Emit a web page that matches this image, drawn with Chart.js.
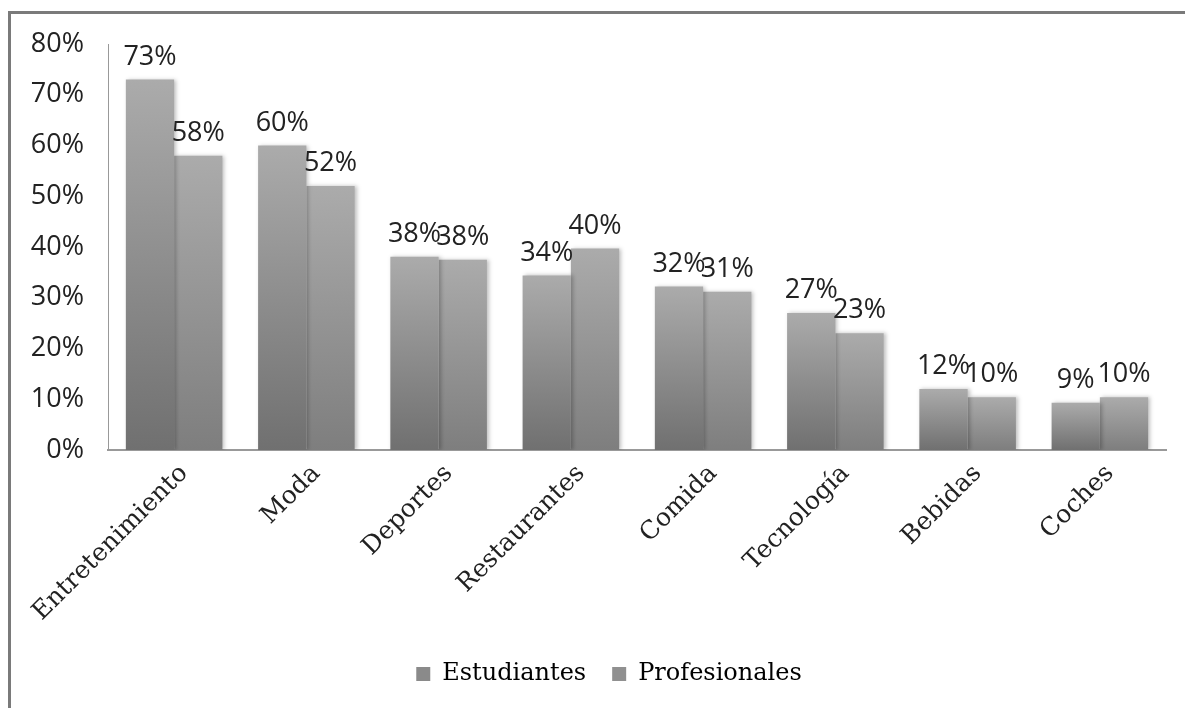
<!DOCTYPE html>
<html lang="es">
  <head>
    <meta charset="UTF-8" />
    <title>Estudiantes vs Profesionales</title>
    <script src="https://cdn.jsdelivr.net/npm/chart.js"></script>
    <style>
      html, body { margin: 0; padding: 0; background: #fff; }
      #wrap { position: relative; width: 1185px; height: 708px; }
      #frame {
        position: absolute; left: 8px; top: 11px; right: 0; bottom: 0;
        border-top: 3px solid #7a7a7a; border-left: 3px solid #7a7a7a;
      }
      canvas { position: absolute; left: 0; top: 0; }
    </style>
  </head>
  <body>
    <div id="wrap">
      <div id="frame"></div>
      <canvas id="chart" width="1185" height="708"></canvas>
    </div>

    <script>
      const categories = ["Entretenimiento", "Moda", "Deportes", "Restaurantes", "Comida", "Tecnología", "Bebidas", "Coches"];
      const estudiantes = [0.73, 0.60, 0.381, 0.344, 0.322, 0.27, 0.12, 0.093];
      const profesionales = [0.58, 0.52, 0.375, 0.397, 0.312, 0.23, 0.104, 0.104];
      const yTicks = [0, 0.1, 0.2, 0.3, 0.4, 0.5, 0.6, 0.7, 0.8];

      const sansFont = "'Open Sans', 'DejaVu Sans', sans-serif";
      const serifFont = "'DejaVu Serif', serif";

      // gradient per bar: light at top, darker at the base
      function barFill(top, bottom) {
        return (ctx) => {
          const chart = ctx.chart;
          const y = chart.scales && chart.scales.y;
          if (!y || ctx.parsed === undefined) return top;
          const yTop = y.getPixelForValue(ctx.parsed.y);
          const yBase = y.getPixelForValue(0);
          if (!isFinite(yTop) || !isFinite(yBase) || yTop === yBase) return top;
          const g = chart.ctx.createLinearGradient(0, yTop, 0, yBase);
          g.addColorStop(0, top);
          g.addColorStop(1, bottom);
          return g;
        };
      }

      const valueLabels = {
        id: "valueLabels",
        afterDatasetsDraw(chart) {
          const ctx = chart.ctx;
          ctx.save();
          ctx.font = "27px " + sansFont;
          ctx.fillStyle = "#222";
          ctx.textAlign = "center";
          ctx.textBaseline = "bottom";
          chart.data.datasets.forEach((ds, i) => {
            chart.getDatasetMeta(i).data.forEach((bar, j) => {
              ctx.fillText(Math.round(ds.data[j] * 100) + "%", bar.x, bar.y - 9);
            });
          });
          ctx.restore();
        },
      };

      const barShadow = {
        id: "barShadow",
        beforeDatasetsDraw(chart) {
          const ctx = chart.ctx;
          ctx.save();
          ctx.shadowColor = "rgba(0,0,0,0.25)";
          ctx.shadowBlur = 4;
          ctx.shadowOffsetX = 2;
        },
        afterDatasetsDraw(chart) {
          chart.ctx.restore();
        },
      };

      // the legend in the original sits a little right of centre
      const legendShift = {
        id: "legendShift",
        afterLayout(chart) {
          chart.legend.left += 26;
          chart.legend.right += 26;
        },
      };

      new Chart(document.getElementById("chart"), {
        type: "bar",
        data: {
          labels: categories,
          datasets: [
            {
              label: "Estudiantes",
              data: estudiantes,
              backgroundColor: barFill("#ababab", "#707070"),
              borderWidth: 0,
            },
            {
              label: "Profesionales",
              data: profesionales,
              backgroundColor: barFill("#ababab", "#7e7e7e"),
              borderWidth: 0,
            },
          ],
        },
        options: {
          responsive: false,
          animation: false,
          devicePixelRatio: 1,
          layout: { padding: { left: 0, right: 19, top: 44, bottom: 12 } },
          datasets: { bar: { categoryPercentage: 0.73, barPercentage: 1 } },
          scales: {
            x: {
              grid: { display: false },
              border: { display: true, color: "#999", width: 2 },
              ticks: {
                color: "#222",
                font: { family: serifFont, size: 25 },
                minRotation: 45,
                maxRotation: 45,
                padding: 1,
                labelOffset: 10,
              },
              afterFit(scale) { scale.height = 186; },
            },
            y: {
              min: 0,
              max: 0.8,
              grid: { display: false, drawTicks: false },
              border: { display: true, color: "#999", width: 1 },
              afterBuildTicks(scale) { scale.ticks = yTicks.map((v) => ({ value: v })); },
              ticks: {
                color: "#222",
                font: { family: sansFont, size: 27 },
                padding: 24,
                callback: (v) => Math.round(v * 100) + "%",
              },
              afterFit(scale) { scale.width = 108; },
            },
          },
          plugins: {
            legend: {
              position: "bottom",
              labels: {
                color: "#222",
                font: { family: serifFont, size: 24 },
                boxWidth: 14,
                boxHeight: 14,
                padding: 26,
                generateLabels(chart) {
                  return chart.data.datasets.map((ds, i) => ({
                    text: ds.label,
                    fillStyle: i === 0 ? "#8a8a8a" : "#909090",
                    strokeStyle: "#8a8a8a",
                    lineWidth: 0,
                    datasetIndex: i,
                  }));
                },
              },
            },
            tooltip: { enabled: false },
          },
        },
        plugins: [barShadow, valueLabels, legendShift],
      });
    </script>
  </body>
</html>
